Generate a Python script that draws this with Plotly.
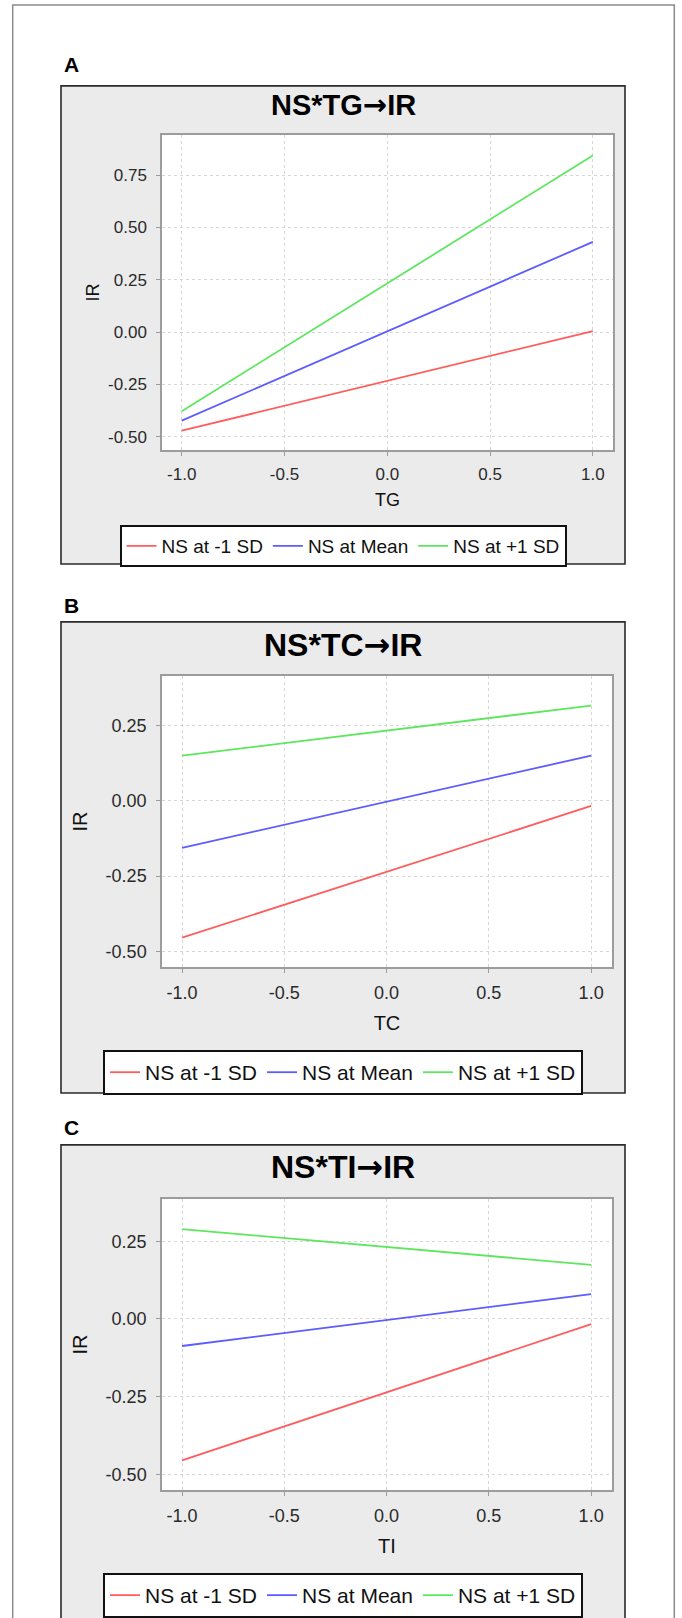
import plotly.graph_objects as go

W, H = 682, 1618

# ---------------- data ----------------
x_vals = [-1.0, 1.0]
series_names = ["NS at -1 SD", "NS at Mean", "NS at +1 SD"]
series_colors = ["#ff5c5c", "#5c5cff", "#5fe65f"]

panel_letters = ["A", "B", "C"]
panel_titles = [("NS*TG", "IR"), ("NS*TC", "IR"), ("NS*TI", "IR")]
x_titles = ["TG", "TC", "TI"]
y_title = "IR"

a_low = [-0.471, 0.005]
a_mean = [-0.423, 0.431]
a_high = [-0.378, 0.844]

b_low = [-0.454, -0.017]
b_mean = [-0.156, 0.150]
b_high = [0.150, 0.316]

c_low = [-0.455, -0.017]
c_mean = [-0.087, 0.080]
c_high = [0.289, 0.174]

x_tickvals = [-1.0, -0.5, 0.0, 0.5, 1.0]
x_ticktext = ["-1.0", "-0.5", "0.0", "0.5", "1.0"]
a_y_tickvals = [-0.5, -0.25, 0.0, 0.25, 0.5, 0.75]
a_y_ticktext = ["-0.50", "-0.25", "0.00", "0.25", "0.50", "0.75"]
bc_y_tickvals = [-0.5, -0.25, 0.0, 0.25]
bc_y_ticktext = ["-0.50", "-0.25", "0.00", "0.25"]

panel_series = [[a_low, a_mean, a_high], [b_low, b_mean, b_high], [c_low, c_mean, c_high]]

# ---------------- layout geometry (pixels) ----------------
FONT = "Liberation Sans, Arial, Helvetica, sans-serif"
panels = [
    dict(box=(61, 86, 625, 565), plot=(162, 135, 613, 451), xr=[-1.096, 1.098], yr=[-0.564, 0.943],
         yt=(a_y_tickvals, a_y_ticktext), title_y=105.5, title_fs=29, letter_y=65, legend_top=526,
         legend_fs=19, axis_fs=18, tick_fs=17, xstand=10, ystand=4),
    dict(box=(61, 623, 625, 1095), plot=(162, 677, 612, 969), xr=[-1.098, 1.102], yr=[-0.552, 0.415],
         yt=(bc_y_tickvals, bc_y_ticktext), title_y=646, title_fs=32, letter_y=607, legend_top=1052,
         legend_fs=21, axis_fs=20, tick_fs=18, xstand=14, ystand=13),
    dict(box=(61, 1147, 625, 1640), plot=(162, 1201, 612, 1493), xr=[-1.098, 1.102], yr=[-0.551, 0.3865],
         yt=(bc_y_tickvals, bc_y_ticktext), title_y=1169, title_fs=32, letter_y=1130, legend_top=1576,
         legend_fs=21, axis_fs=20, tick_fs=18, xstand=14, ystand=13),
]


def px(x):
    return x / W


def py(y):
    return 1 - y / H


fig = go.Figure()
shapes = []
annotations = []

# outer frame
shapes.append(dict(type="rect", xref="paper", yref="paper", x0=px(12.7), x1=px(674.3), y0=py(5), y1=py(1640),
                   line=dict(color="#8c8c8c", width=1.5), fillcolor="rgba(0,0,0,0)", layer="below"))

layout_axes = {}
for i, p in enumerate(panels):
    n = i + 1
    sfx = "" if n == 1 else str(n)
    bx0, by0, bx1, by1 = p["box"]
    qx0, qy0, qx1, qy1 = p["plot"]
    shapes.append(dict(type="rect", xref="paper", yref="paper", x0=px(bx0), x1=px(bx1), y0=py(by1), y1=py(by0),
                       line=dict(color="#2b2b2b", width=1.6), fillcolor="#ebebeb", layer="below"))
    shapes.append(dict(type="rect", xref="paper", yref="paper", x0=px(qx0), x1=px(qx1), y0=py(qy1), y1=py(qy0),
                       line=dict(width=0), fillcolor="#ffffff", layer="below"))

    legend_name = "legend" if n == 1 else f"legend{n}"
    for name, color, yv in zip(series_names, series_colors, panel_series[i]):
        fig.add_trace(go.Scatter(x=x_vals, y=yv, mode="lines", name=name,
                                 line=dict(color=color, width=1.8),
                                 xaxis="x" + sfx, yaxis="y" + sfx, legend=legend_name, showlegend=True))

    axis_common = dict(showline=True, mirror=True, linecolor="#9c9c9c", linewidth=1.5,
                       showgrid=True, gridcolor="#d6d6d6", griddash="3px,3px", gridwidth=1,
                       zeroline=False, ticks="outside", ticklen=4, tickcolor="#9c9c9c",
                       tickfont=dict(family=FONT, size=p["tick_fs"], color="#2a2a2a"))
    layout_axes["xaxis" + sfx] = dict(
        axis_common, domain=[px(qx0), px(qx1)], range=p["xr"], anchor="y" + sfx,
        tickmode="array", tickvals=x_tickvals, ticktext=x_ticktext, ticklabelstandoff=4,
        title=dict(text=x_titles[i], font=dict(family=FONT, size=p["axis_fs"], color="#111111"),
                   standoff=p["xstand"]))
    layout_axes["yaxis" + sfx] = dict(
        axis_common, domain=[py(qy1), py(qy0)], range=p["yr"], anchor="x" + sfx,
        tickmode="array", tickvals=p["yt"][0], ticktext=p["yt"][1], ticklabelstandoff=6,
        title=dict(text=y_title, font=dict(family=FONT, size=p["axis_fs"], color="#111111"),
                   standoff=p["ystand"]))

    layout_axes[legend_name] = dict(
        orientation="h", x=px((bx0 + bx1) / 2), xanchor="center", y=py(p["legend_top"]), yanchor="top",
        bgcolor="#ffffff", bordercolor="#111111", borderwidth=2,
        font=dict(family=FONT, size=p["legend_fs"], color="#111111"), itemwidth=30)

    left, right = panel_titles[i]
    title_html = (f"<b>{left}<span style='font-family:DejaVu Sans'>\u2192</span>{right}</b>")
    annotations.append(dict(text=title_html, xref="paper", yref="paper",
                            x=px((bx0 + bx1) / 2), y=py(p["title_y"]), xanchor="center", yanchor="middle",
                            showarrow=False, font=dict(family=FONT, size=p["title_fs"], color="#000000")))
    annotations.append(dict(text=f"<b>{panel_letters[i]}</b>", xref="paper", yref="paper",
                            x=px(62), y=py(p["letter_y"]), xanchor="left", yanchor="middle",
                            showarrow=False, font=dict(family=FONT, size=21, color="#000000")))

fig.update_layout(
    width=W, height=H, margin=dict(l=0, r=0, t=0, b=0),
    paper_bgcolor="#ffffff", plot_bgcolor="#ffffff",
    shapes=shapes, annotations=annotations, **layout_axes,
)

fig.write_html("out.html", config={"displayModeBar": False},
               post_script="document.body.style.margin='0';document.body.style.overflow='hidden';")
